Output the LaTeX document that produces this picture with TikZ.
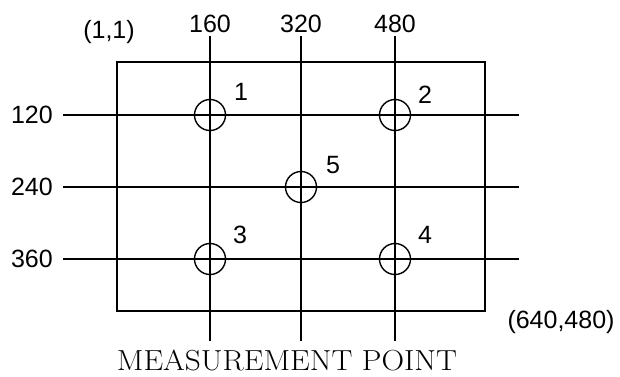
\documentclass[tikz,border=0pt]{standalone}
\usepackage{fontspec}
\setsansfont{Liberation Sans}
\newfontfamily\capfont[FakeStretch=1.08]{Latin Modern Roman}
\usepackage{tikz}
\usetikzlibrary{positioning}

\begin{document}
\begin{tikzpicture}[
		x=1pt,y=-1pt,
		line cap=butt,line join=miter,
		gridline/.style={black, line width=1.4pt},
		meas/.style={circle, draw=black, line width=1.4pt, minimum size=31pt, inner sep=0pt},
		numlbl/.style={font=\sffamily\fontsize{25}{25}\selectfont, inner sep=0pt, anchor=base}
		]
		% ---- parameters
		\def\xL{117}    % left edge of frame
		\def\xR{485}    % right edge of frame
		\def\yT{62}     % top edge of frame
		\def\yB{311}    % bottom edge of frame
		
		% bounding box
		\useasboundingbox (0,0) rectangle (620,376);
		
		% outer frame
		\draw[gridline] (\xL,\yT) rectangle (\xR,\yB);
		
		% vertical lines + column labels
		\foreach \x/\t in {210/160, 301/320, 395/480}{
			\draw[gridline] (\x,36) -- (\x,341);
			\node[numlbl] (col\t) at (\x,32) {\t};
		}
		
		% horizontal lines + row labels
		\foreach \y/\t in {115/120, 187/240, 259/360}{
			\draw[gridline] (63,\y) -- (519,\y);
			\node[numlbl, anchor=base east] (row\t) at (53,\y+8) {\t};
		}
		
		% corner coordinates
		\node[numlbl] (tl) at (109,38) {(1,1)};
		\node[numlbl] (br) at (561,328) {(640,480)};
		
		% measurement points
		\node[meas] (p1) at (210,115) {};
		\node[meas] (p2) at (395,115) {};
		\node[meas] (p5) at (301,187) {};
		\node[meas] (p3) at (210,259) {};
		\node[meas] (p4) at (395,259) {};
		
		% point numbers
		\node[numlbl] (n1) at (241,100) {1};
		\node[numlbl] (n2) at (425,103) {2};
		\node[numlbl] (n5) at (333,173) {5};
		\node[numlbl] (n3) at (240,243) {3};
		\node[numlbl] (n4) at (425,243) {4};
		
		% caption
		\node[font=\capfont\fontsize{29}{29}\selectfont, inner sep=0pt, anchor=base] (cap) at (287,370) {MEASUREMENT POINT};
	\end{tikzpicture}
\end{document}
